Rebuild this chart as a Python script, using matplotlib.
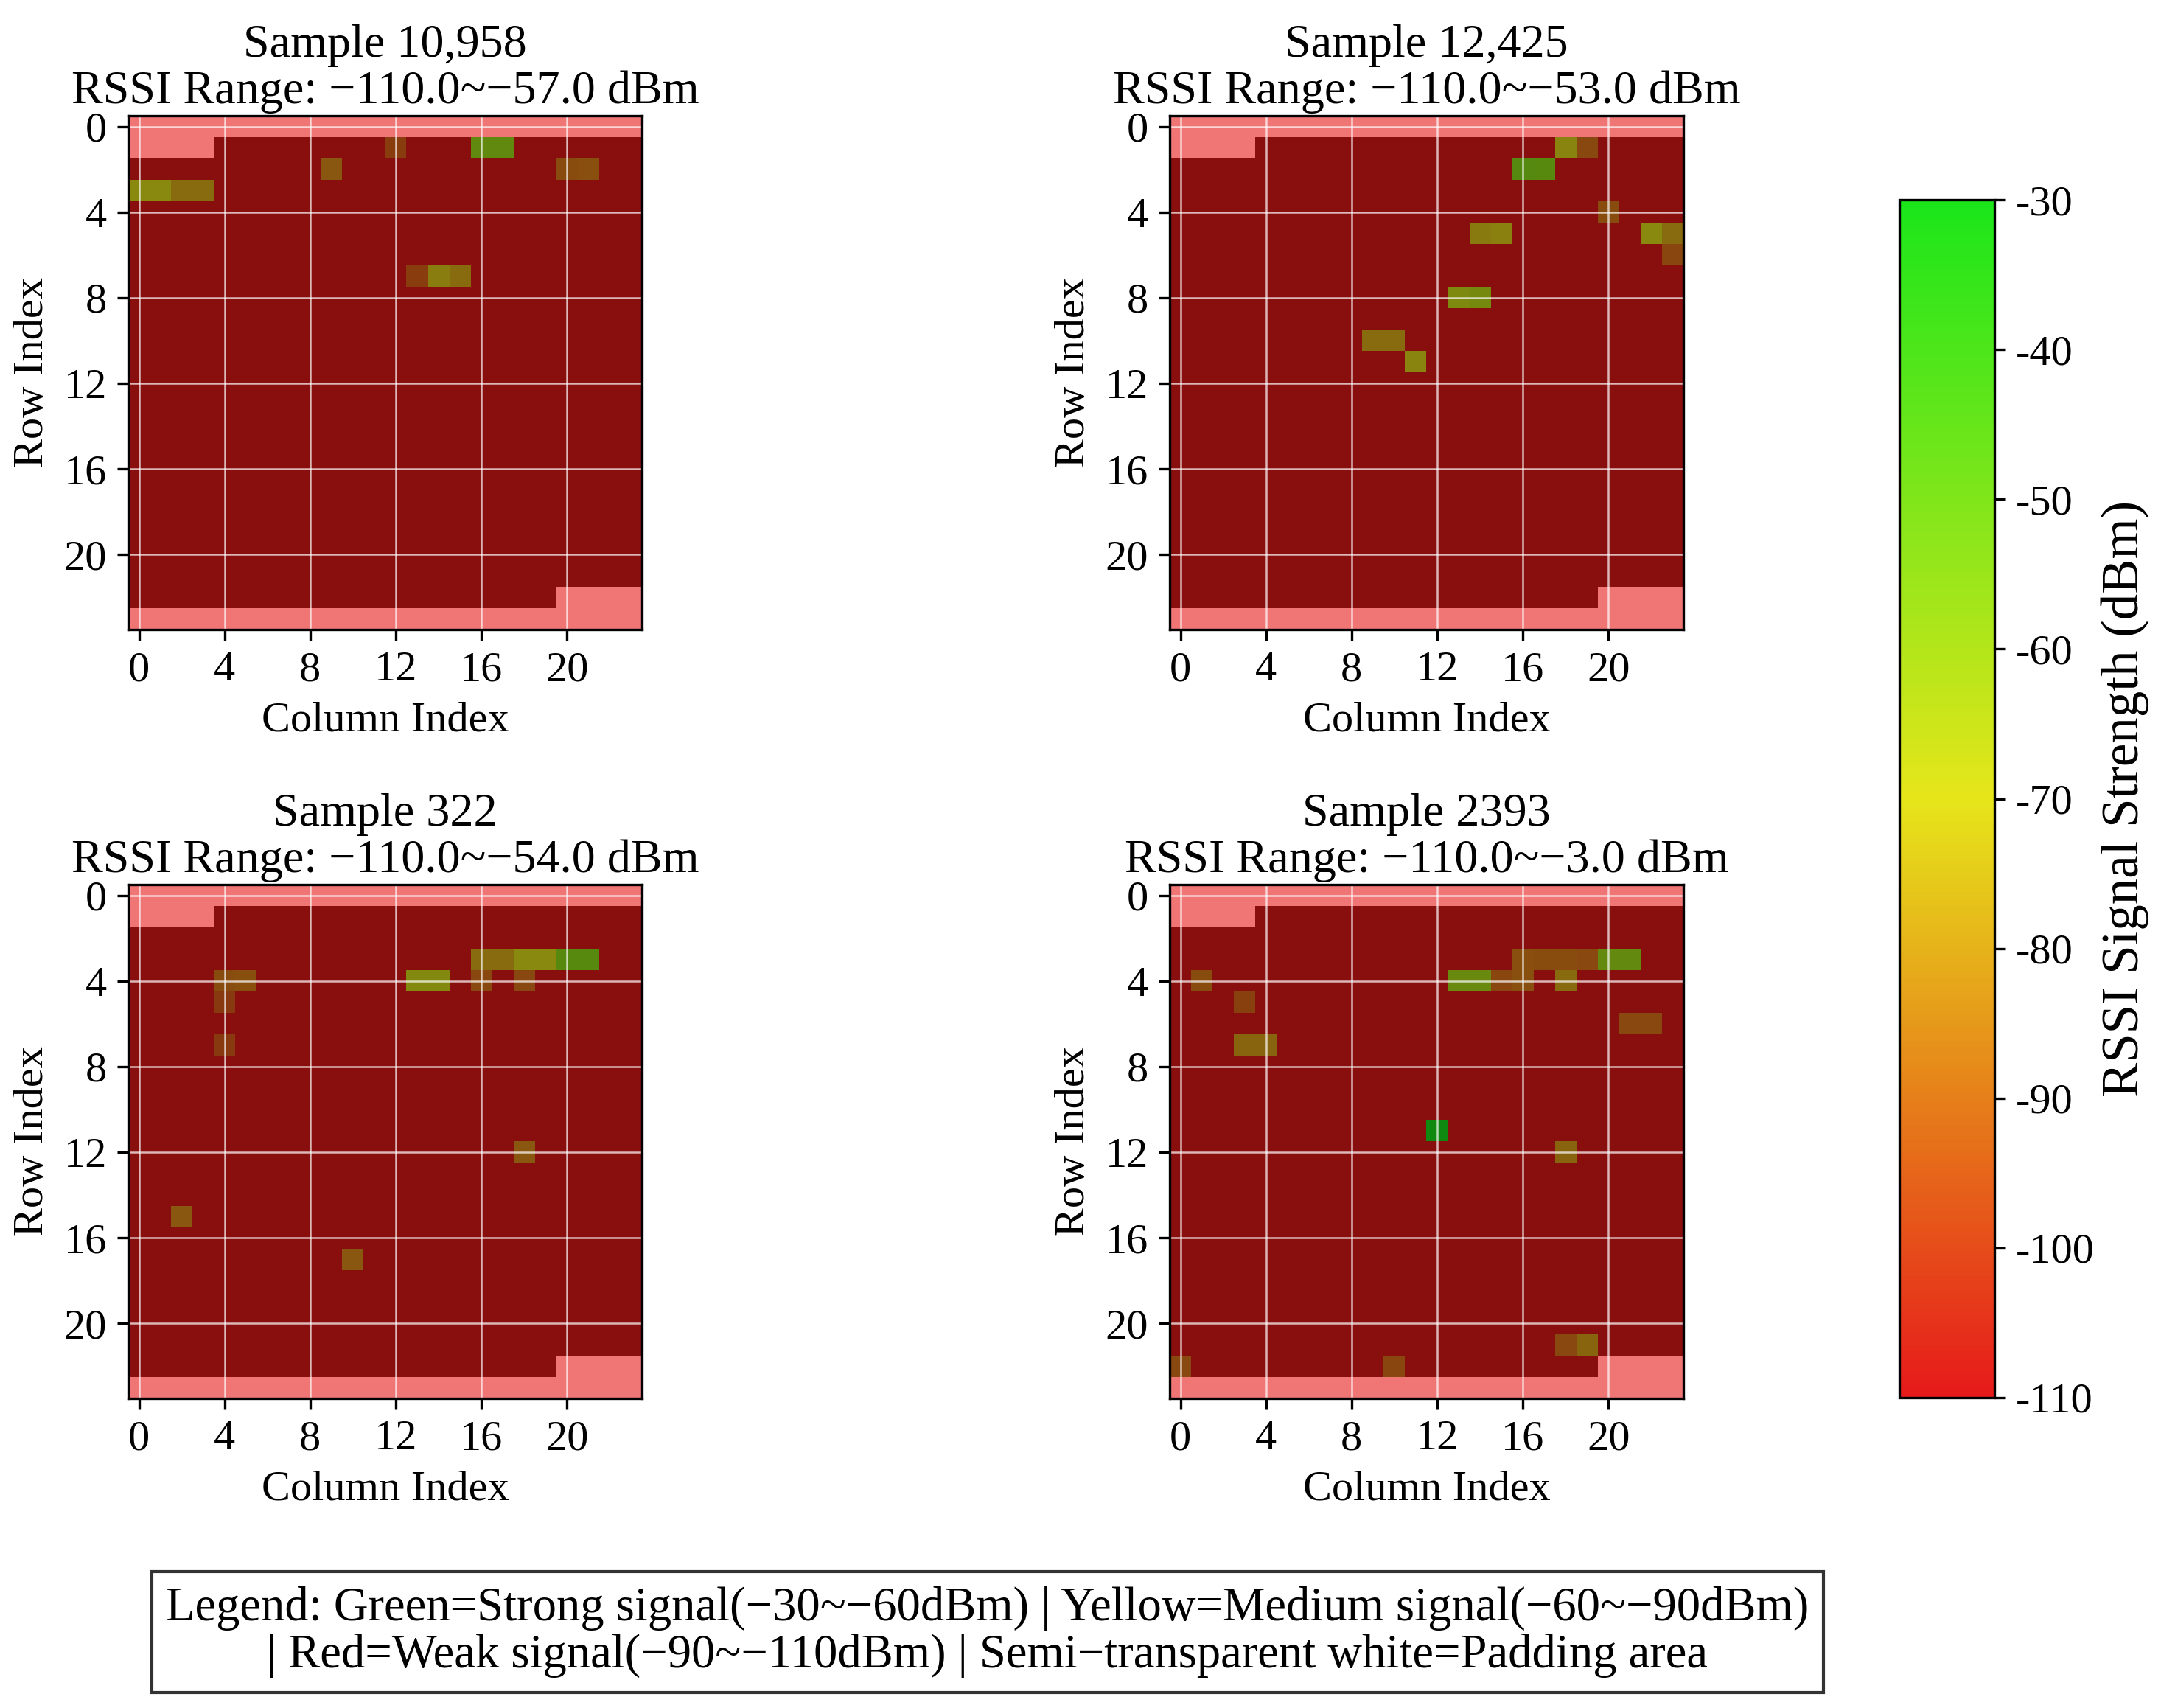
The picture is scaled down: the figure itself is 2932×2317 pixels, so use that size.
import numpy as np
import matplotlib
matplotlib.use("Agg")
import matplotlib.pyplot as plt
from matplotlib.colors import LinearSegmentedColormap, ListedColormap, Normalize
from matplotlib.cm import ScalarMappable

plt.rcParams['font.family'] = ['Liberation Serif', 'DejaVu Serif']
plt.rcParams['font.size'] = 14
plt.rcParams['axes.unicode_minus'] = False

# ---------------- data ----------------
GRID = 24
PAD_FRONT = 28
PAD_BACK = 28
RSSI_FLOOR = -110.0
VMIN, VMAX = -110, -30

sample_titles = ["Sample 10,958", "Sample 12,425", "Sample 322", "Sample 2393"]
sample_ranges = ["\u2212110.0~\u221257.0 dBm", "\u2212110.0~\u221253.0 dBm",
                 "\u2212110.0~\u221254.0 dBm", "\u2212110.0~\u22123.0 dBm"]

# detected access points per sample: (row, col, rssi)
s10958_rows = [1, 1, 1, 2, 2, 2, 3, 3, 3, 3, 7, 7, 7]
s10958_cols = [12, 16, 17, 9, 20, 21, 0, 1, 2, 3, 13, 14, 15]
s10958_vals = [-95, -57, -57, -86, -90, -89, -70, -70, -80, -80, -95, -74, -80]

s12425_rows = [1, 1, 2, 2, 4, 5, 5, 5, 5, 6, 8, 8, 10, 10, 11]
s12425_cols = [18, 19, 16, 17, 20, 14, 15, 22, 23, 23, 13, 14, 9, 10, 11]
s12425_vals = [-72, -91, -53, -54, -90, -75, -73, -70, -80, -92, -66, -64, -80, -80, -72]

s322_rows = [3, 3, 3, 3, 3, 3, 4, 4, 4, 4, 4, 4, 5, 7, 12, 15, 17]
s322_cols = [16, 17, 18, 19, 20, 21, 4, 5, 13, 14, 16, 18, 4, 4, 18, 2, 10]
s322_vals = [-80, -80, -70, -70, -54, -54, -90, -89, -68, -68, -91, -91, -96, -96, -86, -86, -86]

s2393_rows = [3, 3, 3, 3, 3, 3, 4, 4, 4, 4, 4, 4, 5, 6, 6, 7, 7, 11, 12, 21, 21, 22, 22]
s2393_cols = [16, 17, 18, 19, 20, 21, 1, 13, 14, 15, 16, 18, 3, 21, 22, 3, 4, 12, 18, 18, 19, 0, 10]
s2393_vals = [-89, -90, -90, -91, -58, -58, -90, -60, -60, -92, -89, -80, -94, -91, -91, -82, -82,
              -3, -82, -91, -82, -91, -92]

samples = [
    (s10958_rows, s10958_cols, s10958_vals),
    (s12425_rows, s12425_cols, s12425_vals),
    (s322_rows, s322_cols, s322_vals),
    (s2393_rows, s2393_cols, s2393_vals),
]

tick_positions = [0, 4, 8, 12, 16, 20]
cbar_ticks = [-110, -100, -90, -80, -70, -60, -50, -40, -30]

legend_text = ("Legend: Green=Strong signal(\u221230~\u221260dBm) | Yellow=Medium signal(\u221260~\u221290dBm)\n"
               "| Red=Weak signal(\u221290~\u2212110dBm) | Semi\u2212transparent white=Padding area")

# ---------------- figure ----------------
W, H = 2932, 2317
DPI = 300
fig = plt.figure(figsize=(W / DPI, H / DPI), dpi=DPI)

cmap = LinearSegmentedColormap.from_list("rssi", ["#e61a1a", "#e6e61a", "#1ae61a"])
norm = Normalize(vmin=VMIN, vmax=VMAX)

flat_idx = np.arange(GRID * GRID)
pad_mask = ((flat_idx < PAD_FRONT) | (flat_idx >= GRID * GRID - PAD_BACK)).reshape(GRID, GRID)

ax_size = 697
ax_px = [(174, 157), (1587, 157), (174, 1200), (1587, 1200)]

for i, (rows, cols, vals) in enumerate(samples):
    x0, y0 = ax_px[i]
    ax = fig.add_axes([x0 / W, 1 - (y0 + ax_size) / H, ax_size / W, ax_size / H])
    ax.set_facecolor("black")

    grid = np.full((GRID, GRID), RSSI_FLOOR)
    grid[rows, cols] = vals
    data_layer = np.ma.masked_where(pad_mask, grid)
    ax.imshow(data_layer, cmap=cmap, norm=norm, alpha=0.6, interpolation="nearest")

    # padding: semi-transparent floor colour over white
    white_layer = np.ma.masked_where(~pad_mask, np.ones((GRID, GRID)))
    ax.imshow(white_layer, cmap=ListedColormap(["white"]), interpolation="nearest")
    pad_layer = np.ma.masked_where(~pad_mask, np.full((GRID, GRID), RSSI_FLOOR))
    ax.imshow(pad_layer, cmap=cmap, norm=norm, alpha=0.6, interpolation="nearest")

    ax.set_xticks(tick_positions)
    ax.set_yticks(tick_positions)
    ax.tick_params(labelsize=14)
    ax.grid(True, color="white", linewidth=0.6, alpha=0.7)
    ax.set_xlabel("Column Index", fontsize=14)
    ax.set_ylabel("Row Index", fontsize=14)
    ax.set_title(f"{sample_titles[i]}\nRSSI Range: {sample_ranges[i]}", fontsize=15.4,
                 linespacing=1.1, pad=4)

# colorbar
cb_left, cb_top, cb_w, cb_bottom = 2577, 271, 129, 1896
cax = fig.add_axes([cb_left / W, 1 - cb_bottom / H, cb_w / W, (cb_bottom - cb_top) / H])
sm = ScalarMappable(norm=norm, cmap=cmap)
cb = fig.colorbar(sm, cax=cax, ticks=cbar_ticks)
cb.ax.tick_params(labelsize=14)
cb.set_label("RSSI Signal Strength (dBm)", fontsize=17, labelpad=2)

# legend text box
fig.text(1340 / W, 1 - 2214 / H, legend_text, ha="center", va="center", fontsize=15.5,
         linespacing=1.1,
         bbox=dict(boxstyle="square,pad=0.3", facecolor="white", edgecolor="#333333", linewidth=1.0))

fig.savefig("out.png", dpi=DPI)
